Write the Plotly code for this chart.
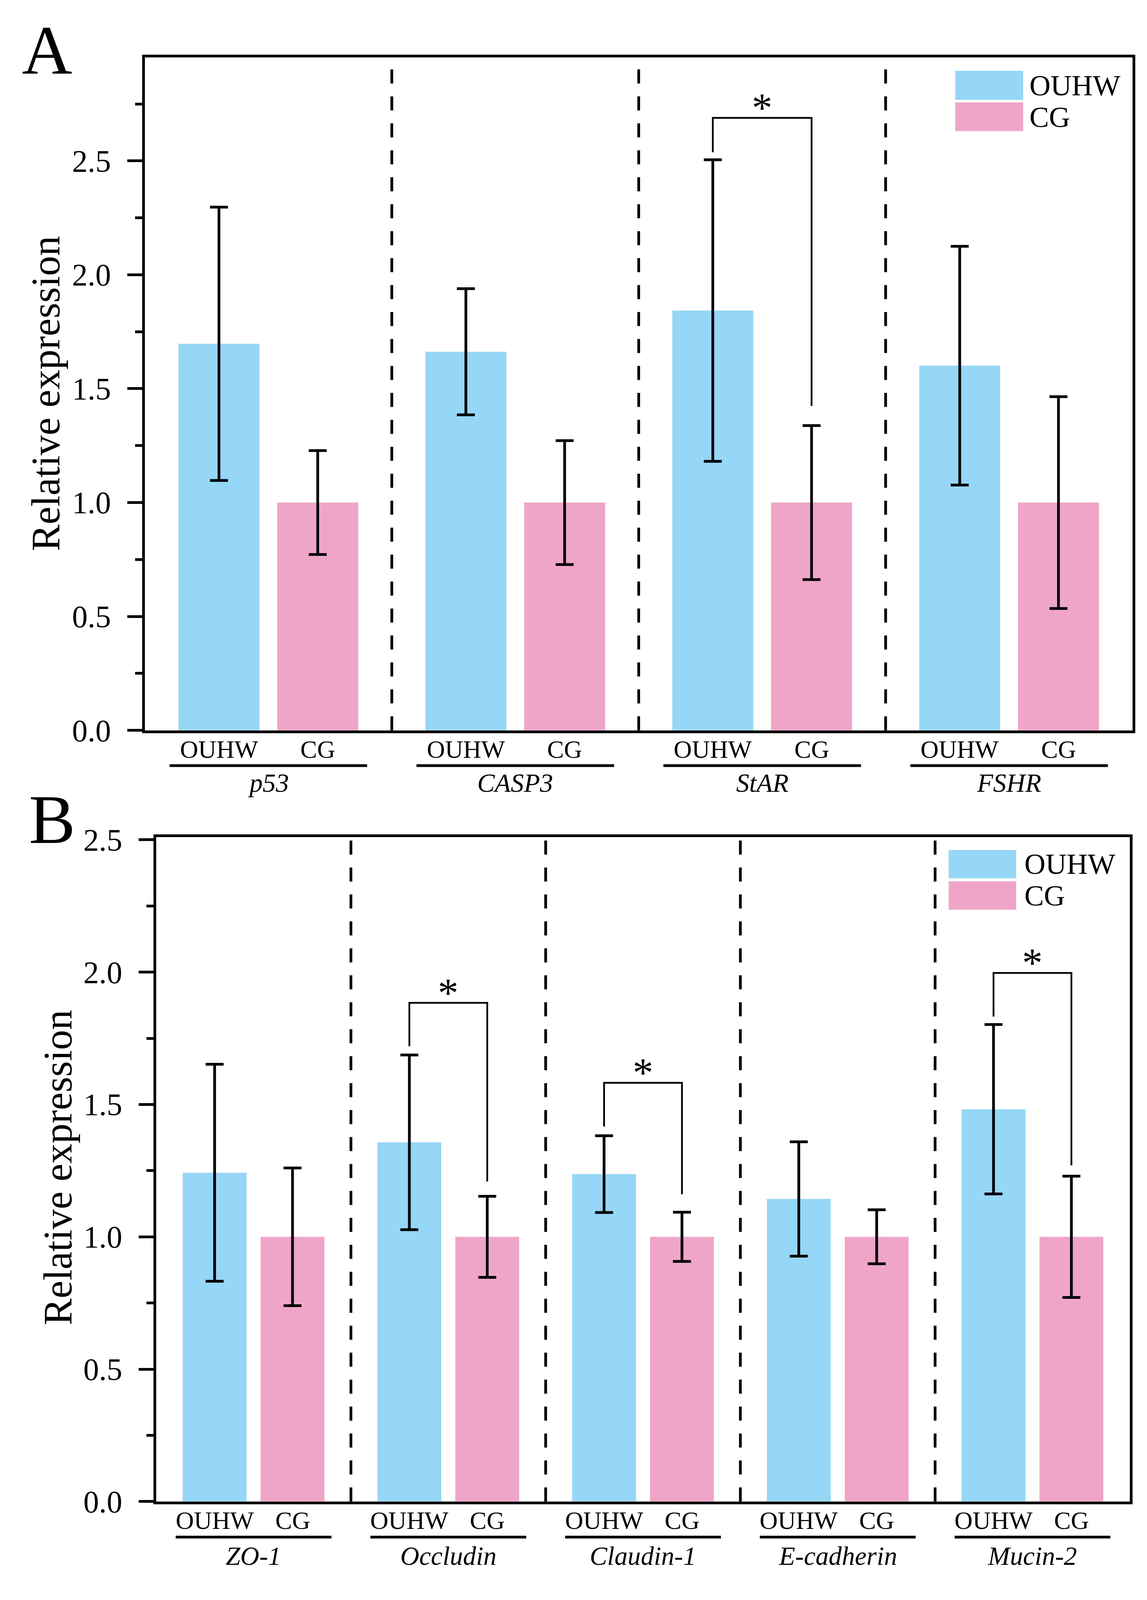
import plotly.graph_objects as go

# ---------------- data ----------------
groups = ["OUHW", "CG"]

genes_A = ["p53", "CASP3", "StAR", "FSHR"]
ouhw_A = [1.697, 1.662, 1.843, 1.601]
ouhw_A_err = [0.600, 0.277, 0.662, 0.524]
cg_A = [1.0, 1.0, 1.0, 1.0]
cg_A_err = [0.228, 0.272, 0.338, 0.465]

genes_B = ["ZO-1", "Occludin", "Claudin-1", "E-cadherin", "Mucin-2"]
ouhw_B = [1.242, 1.357, 1.237, 1.143, 1.482]
ouhw_B_err = [0.410, 0.330, 0.145, 0.216, 0.320]
cg_B = [1.0, 1.0, 1.0, 1.0, 1.0]
cg_B_err = [0.260, 0.153, 0.093, 0.102, 0.229]

# significance brackets: gene index, bracket top, left leg bottom, right leg bottom
sig_A_idx = [2]
sig_A_top = [2.689]
sig_A_left = [2.538]
sig_A_right = [1.424]

sig_B_idx = [1, 2, 4]
sig_B_top = [1.884, 1.582, 1.997]
sig_B_left = [1.720, 1.417, 1.832]
sig_B_right = [1.209, 1.161, 1.270]

y_ticks_A = [0.0, 0.5, 1.0, 1.5, 2.0, 2.5]
y_ticks_B = [0.0, 0.5, 1.0, 1.5, 2.0, 2.5]

# ---------------- geometry / style ----------------
REF_W, REF_H = 2937, 4758          # reference picture size
W, H = 2937, 4096                  # visible browser viewport
SY = H / REF_H                     # vertical scale of pixel offsets
FS = 0.96                          # font scale compromise
BLUE = "#96D6F6"
PINK = "#EFA5C8"
FONT = "Liberation Serif, Times New Roman, serif"
OFF = 0.2
BAR_W = 0.328
LW = 7


def px(x):
    return x / REF_W


def py(y):
    return 1 - y / REF_H


A_BOTTOM, A_TOP = 2173, 131
B_BOTTOM, B_TOP = 4512.5, 2497
domA_x = [px(371), px(2900)]
domA_y = [py(A_BOTTOM), py(A_TOP)]
domB_x = [px(400), px(2893)]
domB_y = [py(B_BOTTOM), py(B_TOP)]

fig = go.Figure()


def add_panel(xa, ya, genes, ov, oe, cv, ce):
    n = len(genes)
    xo = [i - OFF for i in range(n)]
    xc = [i + OFF for i in range(n)]
    fig.add_trace(go.Bar(
        x=xo, y=ov, width=BAR_W, name=groups[0], xaxis=xa, yaxis=ya,
        marker=dict(color=BLUE, line=dict(width=0)),
        error_y=dict(type="data", array=oe, visible=True, color="black",
                     thickness=LW, width=23),
        showlegend=False))
    fig.add_trace(go.Bar(
        x=xc, y=cv, width=BAR_W, name=groups[1], xaxis=xa, yaxis=ya,
        marker=dict(color=PINK, line=dict(width=0)),
        error_y=dict(type="data", array=ce, visible=True, color="black",
                     thickness=LW, width=23),
        showlegend=False))


add_panel("x", "y", genes_A, ouhw_A, ouhw_A_err, cg_A, cg_A_err)
add_panel("x2", "y2", genes_B, ouhw_B, ouhw_B_err, cg_B, cg_B_err)

shapes = []
annotations = []
dash = "%dpx,%dpx" % (round(42 * SY), round(38 * SY))


def decorate(xref, yref, genes, sig_idx, sig_top, sig_left, sig_right,
             leg_box, leg_text_x, leg_text_y, bottom_px, lab_shift, ul_shift, gene_shift):
    n = len(genes)
    dref = yref + " domain"
    # dashed dividers between genes
    for i in range(n - 1):
        shapes.append(dict(type="line", xref=xref, yref=dref,
                           x0=i + 0.5, x1=i + 0.5, y0=0, y1=1,
                           line=dict(color="black", width=LW, dash=dash)))
    for i, g in enumerate(genes):
        for xx, lab in ((i - OFF, groups[0]), (i + OFF, groups[1])):
            annotations.append(dict(x=xx, y=0, xref=xref, yref=yref,
                                    text=lab, showarrow=False,
                                    yanchor="middle", xanchor="center",
                                    yshift=-lab_shift * SY,
                                    font=dict(family=FONT, size=67 * FS, color="black")))
        # group underline (paper y so that it is not clipped by the plot area)
        yl = py(bottom_px + ul_shift)
        shapes.append(dict(type="line", xref=xref, yref="paper",
                           x0=i - 0.40, x1=i + 0.40, y0=yl, y1=yl,
                           line=dict(color="black", width=LW)))
        annotations.append(dict(x=i, y=0, xref=xref, yref=yref,
                                text="<i>%s</i>" % g, showarrow=False,
                                yanchor="middle", xanchor="center",
                                yshift=-gene_shift * SY,
                                font=dict(family=FONT, size=70 * FS, color="black")))
    # significance brackets
    for k, gi in enumerate(sig_idx):
        x0 = gi - OFF
        x1 = gi + OFF
        path = "M %f,%f L %f,%f L %f,%f L %f,%f" % (
            x0, sig_left[k], x0, sig_top[k], x1, sig_top[k], x1, sig_right[k])
        shapes.append(dict(type="path", xref=xref, yref=yref, path=path,
                           line=dict(color="black", width=4.5)))
        annotations.append(dict(x=gi, y=sig_top[k], xref=xref, yref=yref,
                                text="*", showarrow=False,
                                yanchor="middle", xanchor="center", yshift=29 * SY,
                                font=dict(family=FONT, size=110 * FS, color="black")))
    # legend (drawn as boxes + labels)
    xdref = xref + " domain"
    for (bx0, bx1, by0, by1), col, lab, ty in zip(leg_box, (BLUE, PINK), groups, leg_text_y):
        shapes.append(dict(type="rect", xref=xdref, yref=dref,
                           x0=bx0, x1=bx1, y0=by0, y1=by1,
                           fillcolor=col, line=dict(width=0)))
        annotations.append(dict(x=leg_text_x, y=ty, xref=xdref, yref=dref,
                                text=lab, showarrow=False,
                                xanchor="left", yanchor="middle",
                                font=dict(family=FONT, size=78 * FS, color="black")))


decorate("x", "y", genes_A, sig_A_idx, sig_A_top, sig_A_left, sig_A_right,
         [(0.8205, 0.8893, 0.9368, 0.9799), (0.8205, 0.8893, 0.8903, 0.9329)],
         0.8948, [0.9584, 0.9114], A_BOTTOM, 57, 107, 157)
decorate("x2", "y2", genes_B, sig_B_idx, sig_B_top, sig_B_left, sig_B_right,
         [(0.8139, 0.8833, 0.9380, 0.9806), (0.8139, 0.8833, 0.8908, 0.9335)],
         0.8909, [0.9595, 0.9120], B_BOTTOM, 57, 108, 162)

# panel letters and y titles
annotations.append(dict(x=px(121), y=py(110), xref="paper", yref="paper",
                        text="A", showarrow=False, xanchor="center", yanchor="middle",
                        font=dict(family=FONT, size=186 * FS, color="black")))
annotations.append(dict(x=px(133), y=py(2443), xref="paper", yref="paper",
                        text="B", showarrow=False, xanchor="center", yanchor="middle",
                        font=dict(family=FONT, size=186 * FS, color="black")))
annotations.append(dict(x=px(117), y=py(1152), xref="paper", yref="paper",
                        text="Relative expression", textangle=-90, showarrow=False,
                        xanchor="center", yanchor="middle",
                        font=dict(family=FONT, size=107 * FS, color="black")))
annotations.append(dict(x=px(148), y=py(3500), xref="paper", yref="paper",
                        text="Relative expression", textangle=-90, showarrow=False,
                        xanchor="center", yanchor="middle",
                        font=dict(family=FONT, size=107 * FS, color="black")))

xcommon = dict(showgrid=False, zeroline=False, showticklabels=False, ticks="",
               showline=True, mirror=True, linewidth=LW, linecolor="black")


def ycommon(rng, tv):
    return dict(range=rng, tickvals=tv, ticktext=["%.1f" % v for v in tv],
                ticks="outside", ticklen=38, tickwidth=LW, tickcolor="black",
                minor=dict(dtick=0.25, tick0=0, ticks="outside", ticklen=18,
                           tickwidth=LW, tickcolor="black", showgrid=False),
                showgrid=False, zeroline=False, showline=True, mirror=True,
                linewidth=LW, linecolor="black", ticklabelstandoff=26,
                tickfont=dict(family=FONT, size=83 * FS, color="black"))


fig.update_layout(
    width=W, height=H, margin=dict(l=0, r=0, t=0, b=0),
    paper_bgcolor="white", plot_bgcolor="white", showlegend=False,
    barmode="overlay",
    xaxis=dict(domain=domA_x, range=[-0.5, len(genes_A) - 0.5], anchor="y", **xcommon),
    yaxis=dict(domain=domA_y, anchor="x", **ycommon([0, 2.955], y_ticks_A)),
    xaxis2=dict(domain=domB_x, range=[-0.5, len(genes_B) - 0.5], anchor="y2", **xcommon),
    yaxis2=dict(domain=domB_y, anchor="x2", **ycommon([0, 2.51], y_ticks_B)),
    shapes=shapes, annotations=annotations,
)

fig.write_html("out.html", config={"displayModeBar": False},
               post_script="document.body.style.margin='0';document.body.style.padding='0';")
